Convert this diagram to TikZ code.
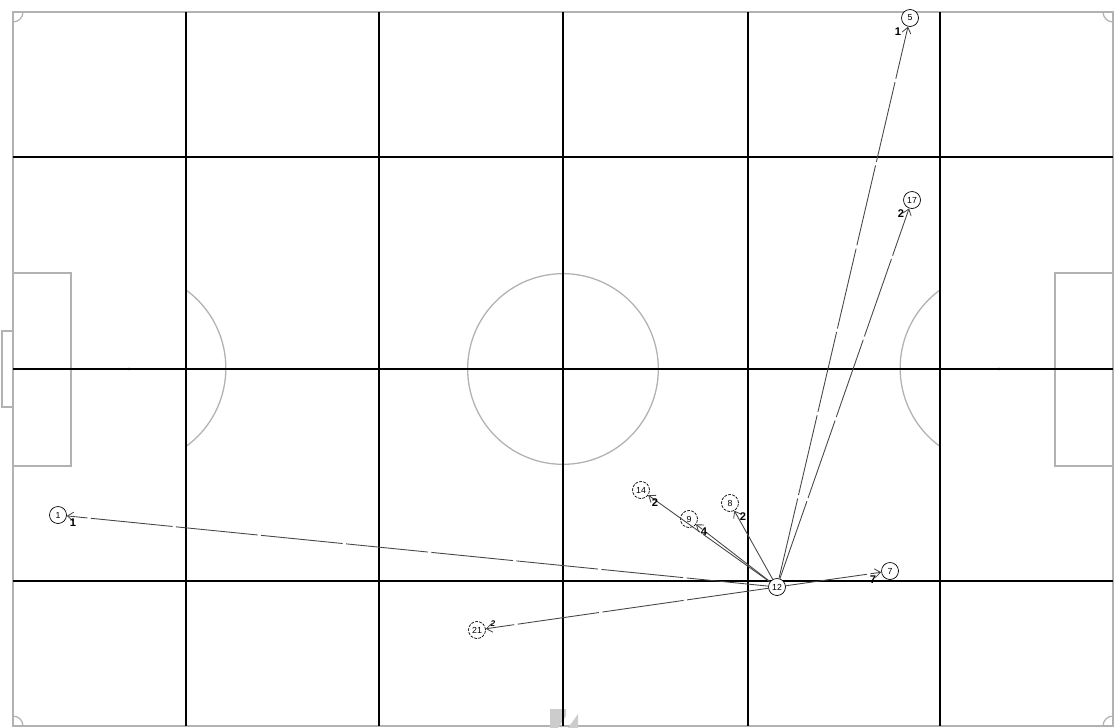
\documentclass[tikz,border=0pt]{standalone}
\usepackage{fontspec}
\setmainfont{Liberation Sans}
\usepackage{tikz}
\usetikzlibrary{arrows.meta, positioning, calc}
\usepackage{xcolor}
\definecolor{pitch}{RGB}{178,178,178}
\definecolor{passline}{RGB}{70,70,70}

\tikzset{
  player/.style={circle, draw=black, fill=white, line width=0.6pt, inner sep=0pt,
    minimum size=14.5pt, font=\fontsize{7.5}{8}\selectfont},
  bench/.style={player, dash pattern=on 2.5pt off 1pt},
  pass/.style={passline, line width=0.75pt, dash pattern=on 70pt off 3pt,
    -{Straight Barb[length=5pt, width=7.5pt, line width=0.7pt]}},
  count/.style={font=\fontsize{9.5}{10}\selectfont\bfseries},
}

\begin{document}
\begin{tikzpicture}[x=0.03cm, y=-0.03cm]
  \useasboundingbox (0,0) rectangle (1115,728);
  % pitch markings
  \begin{scope}[pitch, line width=1.1pt]
    \draw (13,12) rectangle (1113,726);
    \draw (13,273) rectangle (71,466);
    \draw (1055,273) rectangle (1113,466);
    \draw (13,331) -- (2,331) -- (2,407) -- (13,407);
    \draw (563,369) circle[radius=2.86cm];
    \draw (186,290) arc[start angle=54, end angle=-54, radius=2.9cm];
    \draw (940,290) arc[start angle=126, end angle=234, radius=2.9cm];
    \draw (23,12) arc[start angle=0, end angle=-90, radius=0.3cm];
    \draw (23,726) arc[start angle=0, end angle=90, radius=0.3cm];
    \draw (1103,12) arc[start angle=180, end angle=270, radius=0.3cm];
    \draw (1103,726) arc[start angle=180, end angle=90, radius=0.3cm];
    \fill (129,369) circle[radius=0.05cm];
    \fill (999,369) circle[radius=0.05cm];
  \end{scope}
  \fill[gray!40] (550,709) -- (566,709) -- (566,716) -- (558,728) -- (550,728) -- cycle;
  \fill[gray!40] (568,728) -- (578,714) -- (578,728) -- cycle;
  % grid
  \foreach \x in {186,379,563,748,940}
    \draw[line width=1.5pt] (\x,12) -- (\x,726);
  \foreach \y in {157,369,581}
    \draw[line width=1.5pt] (13,\y) -- (1113,\y);

  % players
  \node[player] (p12) at (777,587) {12};
  \node[player] (p5) at (910,18) {5};
  \node[player] (p17) at (912,200) {17};
  \node[player] (p1) at (58,515) {1};
  \node[bench] (p21) at (477,630) {21};
  \node[player] (p7) at (890,571) {7};
  \node[bench] (p14) at (641,490) {14};
  \node[bench] (p9) at (689,519) {9};
  \node[bench] (p8) at (730,503) {8};

  % passes
  \foreach \t in {p5,p17,p1,p21,p7,p14,p9,p8}
    \draw[pass] (p12) -- (\t);

  \node[count] (n5) at (898,32) {1};
  \node[count] (n17) at (901,214) {2};
  \node[count] (n1) at (73,523) {1};
  \node[count, font=\fontsize{7}{7}\selectfont\bfseries\itshape] (n21) at (493,624) {2};
  \node[count] (n7) at (873,580) {7};
  \node[count] (n14) at (655,503) {2};
  \node[count] (n9) at (704,532) {4};
  \node[count] (n8) at (743,517) {2};
\end{tikzpicture}
\end{document}
